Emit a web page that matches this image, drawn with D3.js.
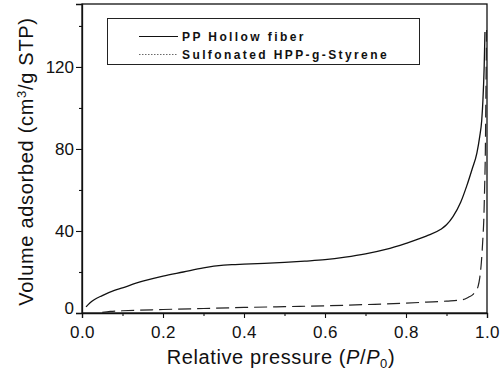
<!DOCTYPE html>
<html>
<head>
<meta charset="utf-8">
<script src="https://cdn.jsdelivr.net/npm/d3@7"></script>
<style>
  body { margin: 0; background: #fff; }
  svg { display: block; font-family: "Liberation Sans", Arial, sans-serif; }
</style>
</head>
<body>
<div id="chartContainer"></div>
<script>
// PP hollow fiber isotherm (solid line)
const ppPressure = [0.01, 0.02, 0.03, 0.05, 0.08, 0.1, 0.15, 0.2, 0.25, 0.3, 0.35, 0.37, 0.4, 0.45, 0.5, 0.55, 0.6, 0.65, 0.7, 0.75, 0.8, 0.85, 0.886, 0.9, 0.916, 0.935, 0.95, 0.963, 0.975, 0.982, 0.987, 0.99, 0.993, 0.995];
const ppVolume = [3, 5, 6.5, 8.5, 11, 12.3, 15.5, 18, 20, 22, 23.3, 23.6, 23.8, 24.2, 24.7, 25.3, 26, 27.2, 28.8, 31, 34, 37.5, 40.8, 43, 47, 54, 62, 70, 78, 86, 94, 104, 120, 137];

// Sulfonated HPP-g-Styrene isotherm (dashed line)
const sulfPressure = [0.05, 0.07, 0.1, 0.2, 0.3, 0.4, 0.5, 0.6, 0.7, 0.8, 0.85, 0.9, 0.94, 0.955, 0.965, 0.972, 0.978, 0.982, 0.986, 0.99, 0.992, 0.994, 0.996, 0.997, 0.998, 0.999];
const sulfVolume = [0.3, 0.8, 1.1, 1.7, 2.2, 2.7, 3.1, 3.5, 4.1, 4.8, 5.3, 5.8, 6.5, 7.8, 9, 10.8, 13, 17, 24.5, 37, 45, 60, 80, 100, 120, 138];

const xMajor = [0, 0.2, 0.4, 0.6, 0.8, 1.0];
const xMinor = [0.1, 0.3, 0.5, 0.7, 0.9];
const yMajor = [0, 40, 80, 120];
const yMinor = [20, 60, 100, 140];

const seriesNames = ["PP Hollow fiber", "Sulfonated HPP-g-Styrene"];

const width = 502;
const height = 374;
const marginTop = 4;
const marginRight = 15;
const marginBottom = 61;
const marginLeft = 82;

const x = d3.scaleLinear().domain([0, 1]).range([marginLeft, width - marginRight]);
const y = d3.scaleLinear().domain([0, 150.7]).range([height - marginBottom, marginTop]);

const svg = d3.create("svg")
    .attr("width", width)
    .attr("height", height)
    .attr("viewBox", [0, 0, width, height]);

// frame
svg.append("rect")
    .attr("x", x(0))
    .attr("y", y(150.7))
    .attr("width", x(1) - x(0))
    .attr("height", y(0) - y(150.7))
    .attr("fill", "none")
    .attr("stroke", "#111")
    .attr("stroke-width", 1.3);

// x axis
const xAxis = svg.append("g")
    .attr("transform", `translate(0,${y(0)})`)
    .call(d3.axisBottom(x).tickValues(xMajor).tickSize(5).tickFormat(d3.format(".1f")));
svg.append("g")
    .attr("transform", `translate(0,${y(0)})`)
    .call(d3.axisBottom(x).tickValues(xMinor).tickSize(3).tickFormat(""))
    .call(g => g.select(".domain").remove());

// y axis
const yAxis = svg.append("g")
    .attr("transform", `translate(${x(0)},0)`)
    .call(d3.axisLeft(y).tickValues(yMajor).tickSize(6).tickPadding(2));
svg.append("g")
    .attr("transform", `translate(${x(0)},0)`)
    .call(d3.axisLeft(y).tickValues(yMinor).tickSize(3).tickFormat(""))
    .call(g => g.select(".domain").remove());

svg.selectAll(".domain").attr("stroke", "#111").attr("stroke-width", 1.3);
svg.selectAll(".tick line").attr("stroke", "#111").attr("stroke-width", 1.1);
xAxis.selectAll(".tick text")
    .attr("font-size", 17)
    .attr("fill", "#111")
    .attr("letter-spacing", 0.5)
    .attr("dy", "1.0em");
yAxis.selectAll(".tick text")
    .attr("font-size", 17)
    .attr("fill", "#111");
yAxis.selectAll(".tick").filter(d => d === 0).select("text").attr("y", -5);

// curves
const ppData = ppPressure.map((p, i) => ({ p: p, v: ppVolume[i] }));
const sulfData = sulfPressure.map((p, i) => ({ p: p, v: sulfVolume[i] }));

const line = d3.line()
    .x(d => x(d.p))
    .y(d => y(d.v))
    .curve(d3.curveMonotoneX);

svg.append("path")
    .attr("d", line(sulfData))
    .attr("fill", "none")
    .attr("stroke", "#222")
    .attr("stroke-width", 1.2)
    .attr("stroke-dasharray", "13,6");

svg.append("path")
    .attr("d", line(ppData))
    .attr("fill", "none")
    .attr("stroke", "#111")
    .attr("stroke-width", 1.3);

// legend
const legend = svg.append("g");
legend.append("rect")
    .attr("x", 107.5)
    .attr("y", 18.5)
    .attr("width", 312)
    .attr("height", 46)
    .attr("fill", "#fff")
    .attr("stroke", "#222")
    .attr("stroke-width", 1);
legend.append("line")
    .attr("x1", 139).attr("x2", 178)
    .attr("y1", 36.5).attr("y2", 36.5)
    .attr("stroke", "#111")
    .attr("stroke-width", 1.2);
legend.append("line")
    .attr("x1", 139).attr("x2", 178)
    .attr("y1", 54.5).attr("y2", 54.5)
    .attr("stroke", "#444")
    .attr("stroke-width", 0.8)
    .attr("stroke-dasharray", "1.5,1.5");
legend.selectAll("text.leg")
    .data(seriesNames)
    .join("text")
    .attr("class", "leg")
    .attr("x", 182)
    .attr("y", (d, i) => 40.5 + i * 18)
    .attr("font-size", 12)
    .attr("font-weight", "bold")
    .attr("letter-spacing", 2.4)
    .attr("fill", "#111")
    .text(d => d);

// axis titles
svg.append("text")
    .attr("transform", `translate(33,${(y(0) + y(150.7)) / 2 + 3}) rotate(-90)`)
    .attr("text-anchor", "middle")
    .attr("font-size", 20)
    .attr("letter-spacing", 0.7)
    .attr("fill", "#111")
    .html('Volume adsorbed (cm<tspan dy="-7" font-size="13">3</tspan><tspan dy="7">/g STP)</tspan>');

svg.append("text")
    .attr("x", 281)
    .attr("y", 364)
    .attr("text-anchor", "middle")
    .attr("font-size", 20)
    .attr("letter-spacing", 0.6)
    .attr("fill", "#111")
    .html('Relative pressure (<tspan font-style="italic">P</tspan>/<tspan font-style="italic">P</tspan><tspan dy="4" font-size="13">0</tspan><tspan dy="-4">)</tspan>');

document.getElementById("chartContainer").appendChild(svg.node());
</script>
</body>
</html>
